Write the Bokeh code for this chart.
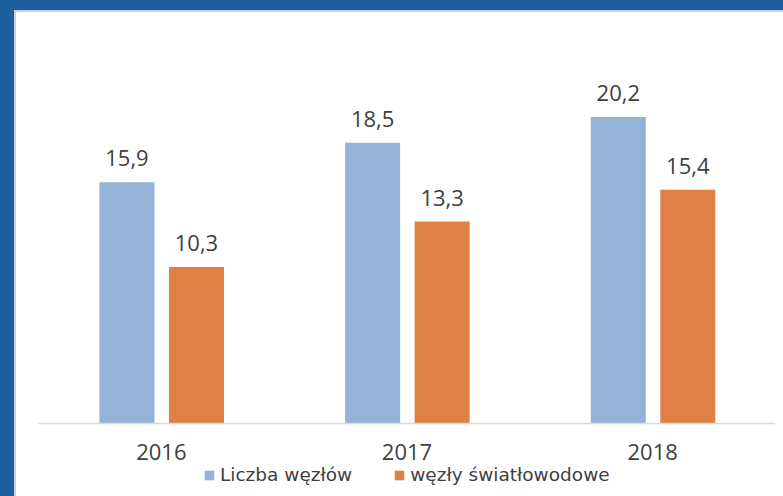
from bokeh.plotting import figure
from bokeh.models import ColumnDataSource, FactorRange, Range1d, Legend, LegendItem, Div
from bokeh.layouts import column, row
from bokeh.transform import dodge
from bokeh.core.properties import value
from bokeh.embed import file_html
from bokeh.resources import INLINE

years = ["2016", "2017", "2018"]
liczba_wezlow = [15.9, 18.5, 20.2]
wezly_swiatlowodowe = [10.3, 13.3, 15.4]
series_names = ["Liczba węzłów", "węzły światłowodowe"]

BLUE = "#95B3D7"
ORANGE = "#DF8045"
TEXT = "#404040"
FONT = "Open Sans"

src = ColumnDataSource(dict(
    year=years,
    a=liczba_wezlow,
    b=wezly_swiatlowodowe,
    a_lbl=[f"{v:.1f}".replace(".", ",") for v in liczba_wezlow],
    b_lbl=[f"{v:.1f}".replace(".", ",") for v in wezly_swiatlowodowe],
))

p = figure(width=767, height=484, x_range=FactorRange(factors=years),
           y_range=Range1d(-4.85, 26.9), y_axis_location=None,
           output_backend="svg", toolbar_location=None,
           min_border_left=22, min_border_right=8, min_border_top=3, min_border_bottom=0)
p.outline_line_color = None
p.xgrid.grid_line_color = None
p.ygrid.grid_line_color = None
p.background_fill_color = "white"
p.border_fill_color = "white"

r1 = p.vbar(x=dodge("year", -0.14, range=p.x_range), top="a", width=0.224, source=src,
            fill_color=BLUE, line_color=None)
r2 = p.vbar(x=dodge("year", 0.143, range=p.x_range), top="b", width=0.224, source=src,
            fill_color=ORANGE, line_color=None)

for off, col in ((-0.14, "a"), (0.143, "b")):
    p.text(x=dodge("year", off, range=p.x_range), y=col, text=col + "_lbl", source=src,
           text_align="center", text_baseline="alphabetic", y_offset=-24,
           text_font=value(FONT), text_font_size="22px", text_color=TEXT)

ax = p.xaxis[0]
ax.fixed_location = 0
ax.axis_line_color = "#D9D9D9"
ax.axis_line_width = 1.5
ax.major_tick_line_color = None
ax.minor_tick_line_color = None
ax.major_tick_out = 0
ax.major_tick_in = 0
ax.major_label_text_font = FONT
ax.major_label_text_font_size = "22px"
ax.major_label_text_color = TEXT
ax.major_label_standoff = 21

legend = Legend(items=[LegendItem(label=series_names[0], renderers=[r1]),
                       LegendItem(label=series_names[1], renderers=[r2])],
                location=(165, 11), orientation="horizontal",
                glyph_width=12, glyph_height=12, label_standoff=5, spacing=41,
                padding=0, margin=0, border_line_color=None, background_fill_alpha=0,
                label_text_font="DejaVu Sans", label_text_font_size="18.5px",
                label_text_color=TEXT)
p.add_layout(legend, "center")

top = Div(width=783, height=12, margin=0, styles={
    "background": "linear-gradient(to right, #1B5E9B 14px, transparent 14px), "
                  "linear-gradient(to bottom, #1B5E9B 10px, #C5D1DF 10px)"})
left = Div(width=16, height=484, margin=0, styles={
    "background": "linear-gradient(to right, #1B5E9B 14px, #C5D1DF 14px)"})
layout = column(top, row(left, p, spacing=0), spacing=0)

open("out.html", "w").write(file_html(layout, INLINE))
